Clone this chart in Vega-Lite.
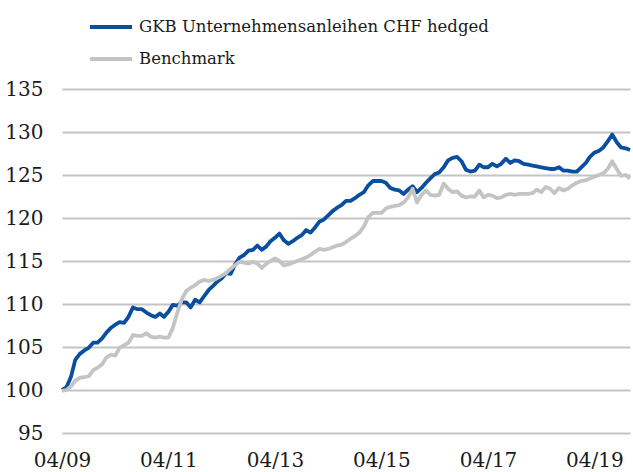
{
  "$schema": "https://vega.github.io/schema/vega-lite/v6.json",
  "width": 568,
  "height": 344,
  "autosize": {"type": "none"},
  "padding": {"left": 62, "top": 89, "right": 3, "bottom": 39},
  "background": "white",
  "config": {"view": {"stroke": null}, "font": "DejaVu Serif"},
  "data": {"values": [
    {"date":"2009-04-01","GKB Unternehmensanleihen CHF hedged":100.0,"Benchmark":99.9},
    {"date":"2009-05-01","GKB Unternehmensanleihen CHF hedged":100.3,"Benchmark":100.0},
    {"date":"2009-06-01","GKB Unternehmensanleihen CHF hedged":101.5,"Benchmark":100.4},
    {"date":"2009-07-01","GKB Unternehmensanleihen CHF hedged":103.5,"Benchmark":101.1},
    {"date":"2009-08-01","GKB Unternehmensanleihen CHF hedged":104.2,"Benchmark":101.4},
    {"date":"2009-09-01","GKB Unternehmensanleihen CHF hedged":104.6,"Benchmark":101.5},
    {"date":"2009-10-01","GKB Unternehmensanleihen CHF hedged":104.9,"Benchmark":101.6},
    {"date":"2009-11-01","GKB Unternehmensanleihen CHF hedged":105.5,"Benchmark":102.3},
    {"date":"2009-12-01","GKB Unternehmensanleihen CHF hedged":105.5,"Benchmark":102.6},
    {"date":"2010-01-01","GKB Unternehmensanleihen CHF hedged":106.0,"Benchmark":103.0},
    {"date":"2010-02-01","GKB Unternehmensanleihen CHF hedged":106.7,"Benchmark":103.8},
    {"date":"2010-03-01","GKB Unternehmensanleihen CHF hedged":107.2,"Benchmark":104.1},
    {"date":"2010-04-01","GKB Unternehmensanleihen CHF hedged":107.6,"Benchmark":104.0},
    {"date":"2010-05-01","GKB Unternehmensanleihen CHF hedged":107.9,"Benchmark":104.9},
    {"date":"2010-06-01","GKB Unternehmensanleihen CHF hedged":107.8,"Benchmark":105.2},
    {"date":"2010-07-01","GKB Unternehmensanleihen CHF hedged":108.5,"Benchmark":105.5},
    {"date":"2010-08-01","GKB Unternehmensanleihen CHF hedged":109.6,"Benchmark":106.4},
    {"date":"2010-09-01","GKB Unternehmensanleihen CHF hedged":109.4,"Benchmark":106.3},
    {"date":"2010-10-01","GKB Unternehmensanleihen CHF hedged":109.4,"Benchmark":106.3},
    {"date":"2010-11-01","GKB Unternehmensanleihen CHF hedged":109.0,"Benchmark":106.6},
    {"date":"2010-12-01","GKB Unternehmensanleihen CHF hedged":108.7,"Benchmark":106.2},
    {"date":"2011-01-01","GKB Unternehmensanleihen CHF hedged":108.5,"Benchmark":106.1},
    {"date":"2011-02-01","GKB Unternehmensanleihen CHF hedged":108.9,"Benchmark":106.2},
    {"date":"2011-03-01","GKB Unternehmensanleihen CHF hedged":108.5,"Benchmark":106.1},
    {"date":"2011-04-01","GKB Unternehmensanleihen CHF hedged":109.1,"Benchmark":106.1},
    {"date":"2011-05-01","GKB Unternehmensanleihen CHF hedged":109.9,"Benchmark":107.2},
    {"date":"2011-06-01","GKB Unternehmensanleihen CHF hedged":109.8,"Benchmark":109.0},
    {"date":"2011-07-01","GKB Unternehmensanleihen CHF hedged":110.2,"Benchmark":110.5},
    {"date":"2011-08-01","GKB Unternehmensanleihen CHF hedged":110.2,"Benchmark":111.5},
    {"date":"2011-09-01","GKB Unternehmensanleihen CHF hedged":109.6,"Benchmark":111.9},
    {"date":"2011-10-01","GKB Unternehmensanleihen CHF hedged":110.5,"Benchmark":112.2},
    {"date":"2011-11-01","GKB Unternehmensanleihen CHF hedged":110.2,"Benchmark":112.6},
    {"date":"2011-12-01","GKB Unternehmensanleihen CHF hedged":110.9,"Benchmark":112.8},
    {"date":"2012-01-01","GKB Unternehmensanleihen CHF hedged":111.6,"Benchmark":112.7},
    {"date":"2012-02-01","GKB Unternehmensanleihen CHF hedged":112.1,"Benchmark":112.8},
    {"date":"2012-03-01","GKB Unternehmensanleihen CHF hedged":112.6,"Benchmark":113.0},
    {"date":"2012-04-01","GKB Unternehmensanleihen CHF hedged":113.0,"Benchmark":113.3},
    {"date":"2012-05-01","GKB Unternehmensanleihen CHF hedged":113.6,"Benchmark":113.6},
    {"date":"2012-06-01","GKB Unternehmensanleihen CHF hedged":113.5,"Benchmark":114.1},
    {"date":"2012-07-01","GKB Unternehmensanleihen CHF hedged":114.6,"Benchmark":114.5},
    {"date":"2012-08-01","GKB Unternehmensanleihen CHF hedged":115.4,"Benchmark":114.9},
    {"date":"2012-09-01","GKB Unternehmensanleihen CHF hedged":115.7,"Benchmark":114.8},
    {"date":"2012-10-01","GKB Unternehmensanleihen CHF hedged":116.2,"Benchmark":114.7},
    {"date":"2012-11-01","GKB Unternehmensanleihen CHF hedged":116.3,"Benchmark":114.9},
    {"date":"2012-12-01","GKB Unternehmensanleihen CHF hedged":116.8,"Benchmark":114.7},
    {"date":"2013-01-01","GKB Unternehmensanleihen CHF hedged":116.3,"Benchmark":114.2},
    {"date":"2013-02-01","GKB Unternehmensanleihen CHF hedged":116.7,"Benchmark":114.7},
    {"date":"2013-03-01","GKB Unternehmensanleihen CHF hedged":117.3,"Benchmark":115.0},
    {"date":"2013-04-01","GKB Unternehmensanleihen CHF hedged":117.7,"Benchmark":115.3},
    {"date":"2013-05-01","GKB Unternehmensanleihen CHF hedged":118.2,"Benchmark":115.0},
    {"date":"2013-06-01","GKB Unternehmensanleihen CHF hedged":117.4,"Benchmark":114.5},
    {"date":"2013-07-01","GKB Unternehmensanleihen CHF hedged":117.0,"Benchmark":114.6},
    {"date":"2013-08-01","GKB Unternehmensanleihen CHF hedged":117.3,"Benchmark":114.8},
    {"date":"2013-09-01","GKB Unternehmensanleihen CHF hedged":117.7,"Benchmark":115.0},
    {"date":"2013-10-01","GKB Unternehmensanleihen CHF hedged":118.0,"Benchmark":115.2},
    {"date":"2013-11-01","GKB Unternehmensanleihen CHF hedged":118.6,"Benchmark":115.4},
    {"date":"2013-12-01","GKB Unternehmensanleihen CHF hedged":118.3,"Benchmark":115.7},
    {"date":"2014-01-01","GKB Unternehmensanleihen CHF hedged":118.9,"Benchmark":116.1},
    {"date":"2014-02-01","GKB Unternehmensanleihen CHF hedged":119.6,"Benchmark":116.4},
    {"date":"2014-03-01","GKB Unternehmensanleihen CHF hedged":119.8,"Benchmark":116.3},
    {"date":"2014-04-01","GKB Unternehmensanleihen CHF hedged":120.3,"Benchmark":116.4},
    {"date":"2014-05-01","GKB Unternehmensanleihen CHF hedged":120.8,"Benchmark":116.6},
    {"date":"2014-06-01","GKB Unternehmensanleihen CHF hedged":121.2,"Benchmark":116.8},
    {"date":"2014-07-01","GKB Unternehmensanleihen CHF hedged":121.5,"Benchmark":116.9},
    {"date":"2014-08-01","GKB Unternehmensanleihen CHF hedged":122.0,"Benchmark":117.2},
    {"date":"2014-09-01","GKB Unternehmensanleihen CHF hedged":122.0,"Benchmark":117.6},
    {"date":"2014-10-01","GKB Unternehmensanleihen CHF hedged":122.3,"Benchmark":117.9},
    {"date":"2014-11-01","GKB Unternehmensanleihen CHF hedged":122.7,"Benchmark":118.3},
    {"date":"2014-12-01","GKB Unternehmensanleihen CHF hedged":123.0,"Benchmark":119.0},
    {"date":"2015-01-01","GKB Unternehmensanleihen CHF hedged":123.8,"Benchmark":120.1},
    {"date":"2015-02-01","GKB Unternehmensanleihen CHF hedged":124.3,"Benchmark":120.6},
    {"date":"2015-03-01","GKB Unternehmensanleihen CHF hedged":124.3,"Benchmark":120.6},
    {"date":"2015-04-01","GKB Unternehmensanleihen CHF hedged":124.3,"Benchmark":120.6},
    {"date":"2015-05-01","GKB Unternehmensanleihen CHF hedged":124.1,"Benchmark":121.1},
    {"date":"2015-06-01","GKB Unternehmensanleihen CHF hedged":123.5,"Benchmark":121.3},
    {"date":"2015-07-01","GKB Unternehmensanleihen CHF hedged":123.3,"Benchmark":121.4},
    {"date":"2015-08-01","GKB Unternehmensanleihen CHF hedged":123.2,"Benchmark":121.5},
    {"date":"2015-09-01","GKB Unternehmensanleihen CHF hedged":122.8,"Benchmark":121.8},
    {"date":"2015-10-01","GKB Unternehmensanleihen CHF hedged":123.3,"Benchmark":122.4},
    {"date":"2015-11-01","GKB Unternehmensanleihen CHF hedged":123.7,"Benchmark":123.4},
    {"date":"2015-12-01","GKB Unternehmensanleihen CHF hedged":123.0,"Benchmark":121.8},
    {"date":"2016-01-01","GKB Unternehmensanleihen CHF hedged":123.5,"Benchmark":122.7},
    {"date":"2016-02-01","GKB Unternehmensanleihen CHF hedged":124.1,"Benchmark":123.2},
    {"date":"2016-03-01","GKB Unternehmensanleihen CHF hedged":124.6,"Benchmark":122.7},
    {"date":"2016-04-01","GKB Unternehmensanleihen CHF hedged":125.1,"Benchmark":122.6},
    {"date":"2016-05-01","GKB Unternehmensanleihen CHF hedged":125.3,"Benchmark":122.7},
    {"date":"2016-06-01","GKB Unternehmensanleihen CHF hedged":125.9,"Benchmark":124.0},
    {"date":"2016-07-01","GKB Unternehmensanleihen CHF hedged":126.7,"Benchmark":123.4},
    {"date":"2016-08-01","GKB Unternehmensanleihen CHF hedged":127.0,"Benchmark":123.0},
    {"date":"2016-09-01","GKB Unternehmensanleihen CHF hedged":127.1,"Benchmark":123.1},
    {"date":"2016-10-01","GKB Unternehmensanleihen CHF hedged":126.6,"Benchmark":122.6},
    {"date":"2016-11-01","GKB Unternehmensanleihen CHF hedged":125.6,"Benchmark":122.4},
    {"date":"2016-12-01","GKB Unternehmensanleihen CHF hedged":125.4,"Benchmark":122.5},
    {"date":"2017-01-01","GKB Unternehmensanleihen CHF hedged":125.5,"Benchmark":122.5},
    {"date":"2017-02-01","GKB Unternehmensanleihen CHF hedged":126.2,"Benchmark":123.2},
    {"date":"2017-03-01","GKB Unternehmensanleihen CHF hedged":125.9,"Benchmark":122.4},
    {"date":"2017-04-01","GKB Unternehmensanleihen CHF hedged":125.9,"Benchmark":122.7},
    {"date":"2017-05-01","GKB Unternehmensanleihen CHF hedged":126.3,"Benchmark":122.6},
    {"date":"2017-06-01","GKB Unternehmensanleihen CHF hedged":126.0,"Benchmark":122.3},
    {"date":"2017-07-01","GKB Unternehmensanleihen CHF hedged":126.3,"Benchmark":122.4},
    {"date":"2017-08-01","GKB Unternehmensanleihen CHF hedged":126.9,"Benchmark":122.7},
    {"date":"2017-09-01","GKB Unternehmensanleihen CHF hedged":126.4,"Benchmark":122.8},
    {"date":"2017-10-01","GKB Unternehmensanleihen CHF hedged":126.7,"Benchmark":122.7},
    {"date":"2017-11-01","GKB Unternehmensanleihen CHF hedged":126.6,"Benchmark":122.8},
    {"date":"2017-12-01","GKB Unternehmensanleihen CHF hedged":126.3,"Benchmark":122.8},
    {"date":"2018-01-01","GKB Unternehmensanleihen CHF hedged":126.2,"Benchmark":122.8},
    {"date":"2018-02-01","GKB Unternehmensanleihen CHF hedged":126.1,"Benchmark":122.9},
    {"date":"2018-03-01","GKB Unternehmensanleihen CHF hedged":126.0,"Benchmark":123.3},
    {"date":"2018-04-01","GKB Unternehmensanleihen CHF hedged":125.9,"Benchmark":123.0},
    {"date":"2018-05-01","GKB Unternehmensanleihen CHF hedged":125.8,"Benchmark":123.6},
    {"date":"2018-06-01","GKB Unternehmensanleihen CHF hedged":125.7,"Benchmark":123.4},
    {"date":"2018-07-01","GKB Unternehmensanleihen CHF hedged":125.7,"Benchmark":122.9},
    {"date":"2018-08-01","GKB Unternehmensanleihen CHF hedged":125.9,"Benchmark":123.5},
    {"date":"2018-09-01","GKB Unternehmensanleihen CHF hedged":125.5,"Benchmark":123.2},
    {"date":"2018-10-01","GKB Unternehmensanleihen CHF hedged":125.5,"Benchmark":123.4},
    {"date":"2018-11-01","GKB Unternehmensanleihen CHF hedged":125.4,"Benchmark":123.8},
    {"date":"2018-12-01","GKB Unternehmensanleihen CHF hedged":125.4,"Benchmark":124.1},
    {"date":"2019-01-01","GKB Unternehmensanleihen CHF hedged":125.9,"Benchmark":124.3},
    {"date":"2019-02-01","GKB Unternehmensanleihen CHF hedged":126.4,"Benchmark":124.4},
    {"date":"2019-03-01","GKB Unternehmensanleihen CHF hedged":127.1,"Benchmark":124.6},
    {"date":"2019-04-01","GKB Unternehmensanleihen CHF hedged":127.6,"Benchmark":124.8},
    {"date":"2019-05-01","GKB Unternehmensanleihen CHF hedged":127.8,"Benchmark":125.0},
    {"date":"2019-06-01","GKB Unternehmensanleihen CHF hedged":128.2,"Benchmark":125.2},
    {"date":"2019-07-01","GKB Unternehmensanleihen CHF hedged":128.9,"Benchmark":125.7},
    {"date":"2019-08-01","GKB Unternehmensanleihen CHF hedged":129.7,"Benchmark":126.6},
    {"date":"2019-09-01","GKB Unternehmensanleihen CHF hedged":128.8,"Benchmark":125.7},
    {"date":"2019-10-01","GKB Unternehmensanleihen CHF hedged":128.2,"Benchmark":124.9},
    {"date":"2019-11-01","GKB Unternehmensanleihen CHF hedged":128.1,"Benchmark":125.0},
    {"date":"2019-12-01","GKB Unternehmensanleihen CHF hedged":127.9,"Benchmark":124.6}
  ]},
  "transform": [{"fold": ["GKB Unternehmensanleihen CHF hedged", "Benchmark"], "as": ["series", "value"]}],
  "mark": {"type": "line", "strokeWidth": 3.8, "strokeJoin": "round"},
  "encoding": {
    "x": {
      "field": "date", "type": "temporal",
      "scale": {"type": "utc", "domain": [{"year": 2009, "month": 4, "date": 1, "utc": true}, {"year": 2019, "month": 12, "date": 1, "utc": true}]},
      "axis": {
        "title": null, "grid": false, "ticks": false, "domain": false,
        "values": [
          {"year": 2009, "month": 4, "date": 1, "utc": true},
          {"year": 2011, "month": 4, "date": 1, "utc": true},
          {"year": 2013, "month": 4, "date": 1, "utc": true},
          {"year": 2015, "month": 4, "date": 1, "utc": true},
          {"year": 2017, "month": 4, "date": 1, "utc": true},
          {"year": 2019, "month": 4, "date": 1, "utc": true}
        ],
        "labelExpr": "utcFormat(datum.value, '%m/%y')",
        "labelFont": "DejaVu Serif", "labelFontSize": 20, "labelColor": "#1a1a1a",
        "labelPadding": 17, "labelFlush": false, "labelOverlap": false
      }
    },
    "y": {
      "field": "value", "type": "quantitative",
      "scale": {"domain": [95, 135], "nice": false, "zero": false},
      "axis": {
        "title": null, "ticks": false, "domain": false,
        "values": [95, 100, 105, 110, 115, 120, 125, 130, 135],
        "grid": true, "gridColor": "#c4c4c4", "gridWidth": 2,
        "labelFont": "DejaVu Serif", "labelFontSize": 20, "labelColor": "#1a1a1a",
        "labelPadding": 19
      }
    },
    "color": {
      "field": "series", "type": "nominal",
      "scale": {"domain": ["GKB Unternehmensanleihen CHF hedged", "Benchmark"], "range": ["#0a4f9e", "#c4c4c4"]},
      "legend": {
        "title": null, "orient": "none", "legendX": 26, "legendY": -85,
        "direction": "vertical", "symbolType": "stroke", "symbolSize": 1764,
        "symbolStrokeWidth": 4, "labelFont": "DejaVu Serif", "labelFontSize": 16.5,
        "labelColor": "#1a1a1a", "labelOffset": 5, "rowPadding": -1, "labelLimit": 600
      }
    }
  }
}
